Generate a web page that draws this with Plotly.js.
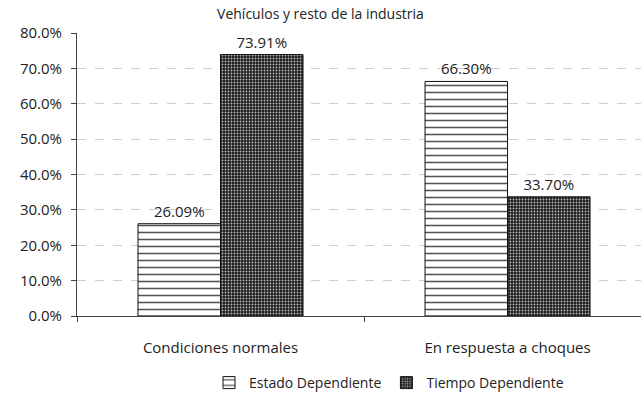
<!DOCTYPE html>
<html><head><meta charset="utf-8">
<script src="https://cdn.plot.ly/plotly-3.0.1.min.js"></script>
<style>html,body{margin:0;padding:0;background:#fff}#chart{width:641px;height:400px}</style>
</head><body><div id="chart"></div>
<script>
const categories = ["Condiciones normales", "En respuesta a choques"];
const estadoDependiente = [26.09, 66.30];
const tiempoDependiente = [73.91, 33.70];
const seriesNames = ["Estado Dependiente", "Tiempo Dependiente"];
const yTicks = [0, 10, 20, 30, 40, 50, 60, 70, 80];

const font = "'Open Sans', sans-serif";
const fmt = v => v.toFixed(2) + "%";

const traces = [
  {
    type: "bar", name: seriesNames[0], x: categories, y: estadoDependiente,
    text: estadoDependiente.map(fmt), textposition: "outside", cliponaxis: false,
    textfont: {family: font, size: 15, color: "#222"},
    marker: {color: "#ffffff", line: {color: "#111", width: 1},
      pattern: {shape: "-", fgcolor: "#555", bgcolor: "#ffffff", size: 7, solidity: 0.22}}
  },
  {
    type: "bar", name: seriesNames[1], x: categories, y: tiempoDependiente,
    text: tiempoDependiente.map(fmt), textposition: "outside", cliponaxis: false,
    textfont: {family: font, size: 15, color: "#222"},
    marker: {color: "#1c1c1c", line: {color: "#111", width: 1},
      pattern: {shape: ".", fgcolor: "#bbbbbb", bgcolor: "#1c1c1c", size: 3, solidity: 0.3}}
  }
];

const layout = {
  width: 641, height: 400,
  margin: {l: 77, r: 0, t: 33, b: 84, autoexpand: false},
  paper_bgcolor: "#fff", plot_bgcolor: "#fff",
  font: {family: font, size: 14, color: "#222"},
  title: {text: "Vehículos y resto de la industria", x: 0.5, xanchor: "center", y: 0.978, yanchor: "top",
    font: {family: font, size: 14, color: "#222"}},
  barmode: "group", bargap: 0.425, bargroupgap: 0,
  showlegend: true,
  legend: {orientation: "h", xref: "container", x: 389 / 641, xanchor: "center",
    yref: "container", y: 17 / 400, yanchor: "middle",
    font: {family: font, size: 14, color: "#222"}, itemwidth: 30, tracegroupgap: 0},
  xaxis: {
    type: "category", range: [-0.5, 1.465],
    showline: true, linecolor: "#444", linewidth: 1,
    ticks: "outside", tickson: "boundaries", ticklen: 5, tickcolor: "#444",
    ticklabelstandoff: 18,
    tickfont: {family: font, size: 15, color: "#222"},
    showgrid: false, zeroline: false
  },
  yaxis: {
    range: [0, 80], tickvals: yTicks, ticktext: yTicks.map(v => v.toFixed(1) + "%"),
    showline: true, linecolor: "#444", linewidth: 1,
    ticks: "outside", ticklen: 5, tickcolor: "#444",
    ticklabelstandoff: 6,
    tickfont: {family: font, size: 15, color: "#222"},
    showgrid: true, gridcolor: "#cfcfcf", griddash: "dash", gridwidth: 1,
    zeroline: false
  }
};

Plotly.newPlot("chart", traces, layout, {displayModeBar: false, staticPlot: true});
</script>
</body></html>
